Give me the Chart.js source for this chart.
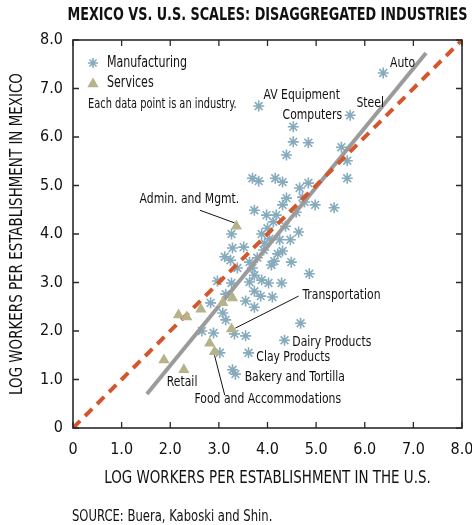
<!DOCTYPE html>
<html>
<head>
<meta charset="utf-8">
<script src="https://cdn.jsdelivr.net/npm/chart.js@4/dist/chart.umd.min.js"></script>
<style>
  html, body { margin: 0; padding: 0; background: #ffffff; }
  #wrap { width: 472px; height: 525px; position: relative; }
</style>
</head>
<body>
<div id="wrap"><canvas id="chart"></canvas></div>
<script>
const FONT = "'DejaVu Sans Condensed', 'Liberation Sans Narrow', 'DejaVu Sans', sans-serif";

const chartTitle = 'MEXICO VS. U.S. SCALES: DISAGGREGATED INDUSTRIES';
const xAxisTitle = 'LOG WORKERS PER ESTABLISHMENT IN THE U.S.';
const yAxisTitle = 'LOG WORKERS PER ESTABLISHMENT IN MEXICO';
const sourceNote = 'SOURCE: Buera, Kaboski and Shin.';
const legendNote = 'Each data point is an industry.';

const xTickLabels = ['0', '1.0', '2.0', '3.0', '4.0', '5.0', '6.0', '7.0', '8.0'];
const yTickLabels = ['0', '1.0', '2.0', '3.0', '4.0', '5.0', '6.0', '7.0', '8.0'];

// Manufacturing industries: log workers per establishment, U.S. and Mexico
const mfgUS = [6.38, 5.70, 3.82, 4.53, 4.53, 4.84, 4.39, 5.52, 5.64, 5.64,
               3.69, 3.82, 4.16, 4.31, 4.84, 4.66, 4.39, 4.31, 4.76, 5.37,
               3.73, 3.98, 4.18, 4.59, 4.64, 3.26, 3.88, 4.04, 3.94, 3.28,
               3.51, 3.12, 3.24, 4.31, 4.21, 4.14, 4.08, 4.49, 4.86, 3.73,
               3.88, 4.02, 4.29, 2.97, 3.26, 3.63, 3.73, 4.10, 3.55, 3.73,
               2.83, 3.08, 3.14, 2.65, 2.89, 3.32, 3.55, 4.68, 4.35, 3.61,
               3.02, 3.28, 3.34, 3.69, 3.38, 4.00, 4.12, 4.25, 3.79, 3.92,
               4.37, 4.47, 3.63, 3.14, 3.86, 4.72, 4.98];
const mfgMX = [7.32, 6.45, 6.64, 6.21, 5.90, 5.88, 5.63, 5.79, 5.51, 5.15,
               5.15, 5.09, 5.15, 5.07, 5.05, 4.95, 4.74, 4.60, 4.66, 4.54,
               4.49, 4.39, 4.39, 4.45, 4.04, 4.00, 4.00, 3.90, 3.81, 3.71,
               3.73, 3.53, 3.46, 3.65, 3.59, 3.44, 3.36, 3.42, 3.18, 3.15,
               3.05, 2.99, 2.99, 3.03, 2.99, 3.01, 2.82, 2.70, 2.62, 2.49,
               2.58, 2.37, 2.23, 2.00, 1.96, 1.94, 1.90, 2.16, 1.81, 1.55,
               1.55, 1.20, 1.11, 3.30, 3.30, 4.12, 4.25, 3.88, 3.51, 3.67,
               4.16, 3.88, 3.42, 2.76, 2.72, 4.76, 4.60];

// Service industries
const svcUS = [3.36, 3.28, 3.08, 2.63, 2.17, 2.34, 3.26, 2.81, 2.91, 1.87, 2.28];
const svcMX = [4.16, 2.68, 2.58, 2.45, 2.33, 2.29, 2.04, 1.75, 1.57, 1.40, 1.20];

// Fitted line and 45-degree line endpoints
const fitUS = [1.52, 7.26];
const fitMX = [0.70, 7.73];
const parityUS = [0, 8];
const parityMX = [0, 8];

// Industry call-outs
const noteText = ['Auto', 'AV Equipment', 'Computers', 'Steel', 'Admin. and Mgmt.',
                  'Transportation', 'Dairy Products', 'Clay Products',
                  'Bakery and Tortilla', 'Retail', 'Food and Accommodations'];
const noteUS = [6.52, 3.92, 4.31, 5.83, 1.37, 4.72, 4.51, 3.77, 3.53, 1.93, 2.50];
const noteMX = [7.53, 6.87, 6.45, 6.70, 4.72, 2.74, 1.77, 1.46, 1.05, 0.95, 0.60];

// Leader lines: [fromUS, fromMX, toUS, toMX]
const leaders = [
  [2.61, 4.49, 3.32, 4.23],
  [4.64, 2.72, 3.34, 2.06],
  [2.91, 1.50, 3.12, 0.68]
];

const pairs = (xs, ys) => xs.map((v, i) => ({ x: v, y: ys[i] }));

const MFG_COLOR = '#86abbd';
const SVC_COLOR = '#b6b38b';
const FIT_COLOR = '#9b9b9b';
const PARITY_COLOR = '#d5552c';
const TICK = 6;

function drawStar(ctx, cx, cy, r) {
  ctx.beginPath();
  for (let k = 0; k < 4; k++) {
    const a = k * Math.PI / 4;
    ctx.moveTo(cx - Math.cos(a) * r, cy - Math.sin(a) * r);
    ctx.lineTo(cx + Math.cos(a) * r, cy + Math.sin(a) * r);
  }
  ctx.stroke();
}

function drawTriangle(ctx, cx, cy, r) {
  ctx.beginPath();
  for (let k = 0; k < 3; k++) {
    const a = k * 2 * Math.PI / 3;
    const px = cx + Math.sin(a) * r, py = cy - Math.cos(a) * r;
    if (k === 0) ctx.moveTo(px, py); else ctx.lineTo(px, py);
  }
  ctx.closePath();
  ctx.fill();
}

// narrow text: horizontally condensed type
function narrowText(ctx, text, x, y, sx, rot) {
  ctx.save();
  ctx.translate(x, y);
  if (rot) ctx.rotate(rot);
  ctx.scale(sx, 1);
  ctx.fillText(text, 0, 0);
  ctx.restore();
}

const decorations = {
  id: 'decorations',
  afterDraw(chart) {
    const { ctx, chartArea: a, scales: { x, y } } = chart;
    ctx.save();

    // plot frame with inward ticks on all four sides
    ctx.strokeStyle = '#2a2a2a';
    ctx.lineWidth = 1.6;
    ctx.strokeRect(a.left, a.top, a.right - a.left, a.bottom - a.top);
    ctx.lineWidth = 1.3;
    ctx.beginPath();
    x.ticks.forEach(t => {
      const px = x.getPixelForValue(t.value);
      ctx.moveTo(px, a.bottom); ctx.lineTo(px, a.bottom - TICK);
      ctx.moveTo(px, a.top); ctx.lineTo(px, a.top + TICK);
    });
    y.ticks.forEach(t => {
      const py = y.getPixelForValue(t.value);
      ctx.moveTo(a.left, py); ctx.lineTo(a.left + TICK, py);
      ctx.moveTo(a.right, py); ctx.lineTo(a.right - TICK, py);
    });
    ctx.stroke();

    const cxArea = (a.left + a.right) / 2;
    const cyArea = (a.top + a.bottom) / 2;
    ctx.fillStyle = '#111111';
    ctx.textBaseline = 'middle';

    // chart title
    ctx.textAlign = 'center';
    ctx.font = 'bold 18px ' + FONT;
    narrowText(ctx, chartTitle, cxArea, 15, 0.79);

    // axis titles
    ctx.font = '18px ' + FONT;
    narrowText(ctx, xAxisTitle, cxArea, 478, 0.83);
    narrowText(ctx, yAxisTitle, 17, cyArea, 0.83, -Math.PI / 2);

    // source line
    ctx.textAlign = 'left';
    ctx.font = '15px ' + FONT;
    narrowText(ctx, sourceNote, 72, 517, 0.86);

    // legend inside the plot
    ctx.strokeStyle = MFG_COLOR;
    ctx.lineWidth = 1.6;
    drawStar(ctx, a.left + 20, a.top + 23, 5);
    ctx.fillStyle = SVC_COLOR;
    drawTriangle(ctx, a.left + 20, a.top + 44, 6.5);
    ctx.fillStyle = '#111111';
    ctx.font = '15px ' + FONT;
    narrowText(ctx, 'Manufacturing', a.left + 34, a.top + 23, 0.82);
    narrowText(ctx, 'Services', a.left + 34, a.top + 43, 0.82);
    ctx.font = '14px ' + FONT;
    narrowText(ctx, legendNote, a.left + 15, a.top + 64, 0.78);

    // industry call-outs
    ctx.font = '14.5px ' + FONT;
    noteText.forEach((t, i) => {
      narrowText(ctx, t, x.getPixelForValue(noteUS[i]), y.getPixelForValue(noteMX[i]), 0.83);
    });
    ctx.strokeStyle = '#111111';
    ctx.lineWidth = 1;
    ctx.beginPath();
    leaders.forEach(l => {
      ctx.moveTo(x.getPixelForValue(l[0]), y.getPixelForValue(l[1]));
      ctx.lineTo(x.getPixelForValue(l[2]), y.getPixelForValue(l[3]));
    });
    ctx.stroke();

    ctx.restore();
  }
};

new Chart(document.getElementById('chart'), {
  type: 'scatter',
  data: {
    datasets: [
      {
        label: 'Services',
        data: pairs(svcUS, svcMX),
        pointStyle: 'triangle',
        pointRadius: 6.5,
        pointBackgroundColor: SVC_COLOR,
        pointBorderColor: SVC_COLOR,
        pointBorderWidth: 0,
        order: 0
      },
      {
        label: '45-degree line',
        data: pairs(parityUS, parityMX),
        showLine: true,
        borderColor: PARITY_COLOR,
        borderWidth: 4,
        borderDash: [10, 7],
        pointRadius: 0,
        order: 1
      },
      {
        label: 'Fitted line',
        data: pairs(fitUS, fitMX),
        showLine: true,
        borderColor: FIT_COLOR,
        borderWidth: 4,
        pointRadius: 0,
        order: 2
      },
      {
        label: 'Manufacturing',
        data: pairs(mfgUS, mfgMX),
        pointStyle: 'star',
        pointRadius: 5.5,
        pointBorderColor: MFG_COLOR,
        pointBorderWidth: 1.6,
        order: 3
      }
    ]
  },
  options: {
    responsive: true,
    maintainAspectRatio: false,
    animation: false,
    layout: { padding: { top: 40, right: 10, left: 0, bottom: 0 } },
    plugins: { legend: { display: false }, tooltip: { enabled: false } },
    scales: {
      x: {
        type: 'linear',
        min: 0, max: 8,
        afterFit: s => { s.height = 97; s.paddingLeft = 0; s.paddingRight = 0; },
        grid: { display: false, drawTicks: false },
        border: { display: false },
        ticks: {
          stepSize: 1,
          padding: 12,
          color: '#111111',
          font: { family: FONT, size: 16 },
          maxRotation: 0,
          callback: (v, i) => xTickLabels[i]
        }
      },
      y: {
        type: 'linear',
        min: 0, max: 8,
        afterFit: s => { s.width = 73; s.paddingTop = 0; s.paddingBottom = 0; },
        grid: { display: false, drawTicks: false },
        border: { display: false },
        ticks: {
          stepSize: 1,
          padding: 10,
          color: '#111111',
          font: { family: FONT, size: 16 },
          callback: (v, i) => yTickLabels[i]
        }
      }
    }
  },
  plugins: [decorations]
});
</script>
</body>
</html>
